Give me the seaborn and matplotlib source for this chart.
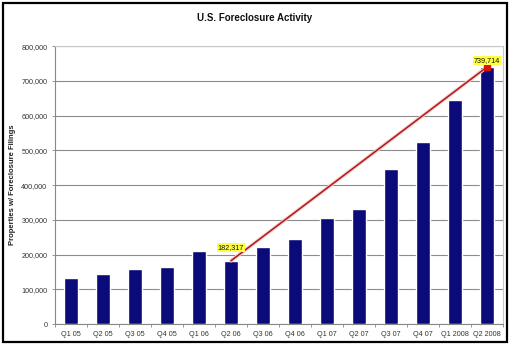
import matplotlib
matplotlib.use("Agg")
import matplotlib.pyplot as plt
import matplotlib.patheffects as pe
from matplotlib.patches import Rectangle
from matplotlib.ticker import FixedLocator
import seaborn as sns
import pandas as pd

quarters = ["Q1 05", "Q2 05", "Q3 05", "Q4 05", "Q1 06", "Q2 06", "Q3 06",
            "Q4 06", "Q1 07", "Q2 07", "Q3 07", "Q4 07", "Q1 2008", "Q2 2008"]
filings = [131500, 143000, 160000, 164000, 209000, 182317, 222000,
           246000, 306000, 331000, 446000, 524000, 646000, 739714]
trend_start = "Q2 06"
trend_end = "Q2 2008"

df = pd.DataFrame({"quarter": quarters, "filings": filings})

sns.set_theme(style="white")
plt.rcParams["font.family"] = ["Liberation Sans", "DejaVu Sans"]

fig = plt.figure(figsize=(5.1, 3.47), dpi=100)
fig.patch.set_facecolor("white")
fig.add_artist(Rectangle((0.006, 0.0144), 0.988, 0.977, transform=fig.transFigure,
                         fill=False, edgecolor="black", linewidth=1.6))

ax = fig.add_axes([0.108, 0.066, 0.878, 0.801])
sns.barplot(data=df, x="quarter", y="filings", color="#0a0a7a", saturation=1,
            width=0.42, ax=ax, zorder=3)

ax.set_ylim(0, 800000)
ax.set_xlim(-0.5, len(quarters) - 0.5)
ax.set_yticks(range(0, 800001, 100000))
ax.set_yticklabels([f"{v:,}" for v in range(0, 800001, 100000)],
                   fontsize=5.2, color="#333333")
ax.set_xticklabels(quarters, fontsize=5.2, color="#333333")
ax.tick_params(axis="y", length=2.5, width=0.6, color="#888888", pad=3, left=True)
# category separators on the x axis
ax.xaxis.set_minor_locator(FixedLocator([i - 0.5 for i in range(len(quarters) + 1)]))
ax.tick_params(axis="x", which="major", length=0, pad=5)
ax.tick_params(axis="x", which="minor", length=2.5, width=0.6, color="#888888",
               bottom=True)
ax.yaxis.grid(True, color="#8c8c8c", linewidth=0.8, zorder=0)
ax.set_axisbelow(True)
for side in ("top", "right"):
    ax.spines[side].set_color("#c8c8c8")
    ax.spines[side].set_linewidth(0.8)
for side in ("left", "bottom"):
    ax.spines[side].set_color("#888888")
    ax.spines[side].set_linewidth(0.8)
ax.set_xlabel("")
ax.set_ylabel("Properties w/ Foreclosure Filings", fontsize=5.5,
              fontweight="bold", color="#222222", labelpad=4)

fig.text(0.5, 0.948, "U.S. Foreclosure Activity", ha="center", va="center",
         fontsize=7, fontweight="bold", color="#111111")

# trend line from the Q2 06 bar to the latest quarter
i0, i1 = quarters.index(trend_start), quarters.index(trend_end)
v0, v1 = filings[i0], filings[i1]
ax.plot([i0, i1], [v0, v1], color="#b01818", linewidth=1.1, zorder=5,
        path_effects=[pe.Stroke(linewidth=2.6, foreground="#f4cccc"), pe.Normal()])
ax.plot([i1], [v1], marker="s", markersize=5, color="#e01010", zorder=6)

label_box = dict(boxstyle="square,pad=0.15", facecolor="#ffff40", edgecolor="none")
ax.text(i0, v0 + 39000, f"{v0:,}", ha="center", va="center",
        fontsize=5.2, color="#111111", bbox=label_box, zorder=7)
ax.text(i1, v1 + 19000, f"{v1:,}", ha="center", va="center",
        fontsize=5.2, color="#111111", bbox=label_box, zorder=7)

fig.savefig("out.png", dpi=100)
